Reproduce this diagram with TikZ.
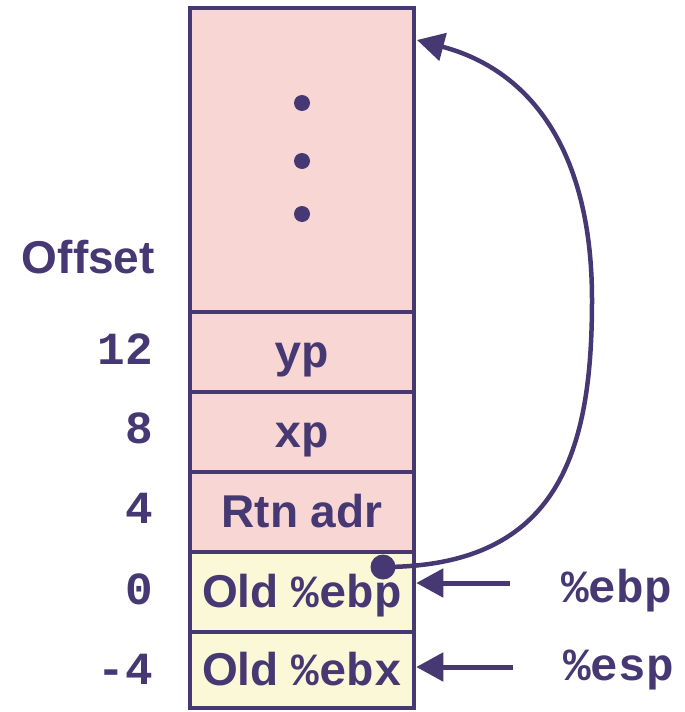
\documentclass[tikz,border=0pt]{standalone}
\usepackage{fontspec}
\setmainfont{Liberation Sans}
\setmonofont{Liberation Mono}
\newfontfamily\codefont{Liberation Mono}
\usetikzlibrary{arrows.meta}
\definecolor{ink}{RGB}{70,56,114}
\definecolor{pinkc}{RGB}{248,214,212}
\definecolor{yellowc}{RGB}{250,248,215}
\newcommand{\code}[1]{{\codefont\bfseries #1}}
\begin{document}
\begin{tikzpicture}[x=1pt,y=-1pt,
  cell/.style={draw=ink, line width=4.5pt, minimum width=224pt, minimum height=80pt,
    inner sep=0pt, text=ink, font=\fontsize{46}{46}\selectfont\bfseries,
    text height=35pt, text depth=5pt},
  pinkcell/.style={cell, fill=pinkc},
  yellowcell/.style={cell, fill=yellowc},
  lbl/.style={text=ink, inner sep=0pt, font=\fontsize{46}{46}\selectfont\bfseries},
  monolbl/.style={lbl, font=\fontsize{46}{46}\selectfont\codefont\bfseries},
  conn/.style={draw=ink, line width=4.5pt},
  tip/.style={-{Triangle[length=27pt,width=28pt]}},
  bullet/.style={circle, fill=ink, inner sep=0pt, minimum size=16pt}]
\useasboundingbox (0,0) rectangle (685,712);
% stack cells
\node[pinkcell, minimum height=304.5pt] (top) at (302,160) {};
\node[pinkcell] (yp) at (302,352) {\code{yp}};
\node[pinkcell] (xp) at (302,432) {\code{xp}};
\node[pinkcell] (rtn) at (302,512) {Rtn adr};
\node[yellowcell] (oebp) at (302,592) {Old \code{\%ebp}};
\node[yellowcell, minimum height=76pt] (oebx) at (302,670) {Old \code{\%ebx}};
% dots
\node[bullet] (d1) at (302,103) {};
\node[bullet] (d2) at (302,161) {};
\node[bullet] (d3) at (302,214) {};
% offsets
\node[lbl, anchor=base east] (off) at (155,273) {Offset};
\node[monolbl, anchor=base east] (o12) at (153,364) {12};
\node[monolbl, anchor=base east] (o8) at (153,443) {8};
\node[monolbl, anchor=base east] (o4) at (153,523) {4};
\node[monolbl, anchor=base east] (o0) at (153,604) {0};
\node[monolbl, anchor=base east] (om4) at (153,684) {-4};
% register labels
\node[monolbl, anchor=base west] (rebp) at (561,602) {\%ebp};
\node[monolbl, anchor=base west] (resp) at (563,680) {\%esp};
\coordinate (ebpfrom) at (510,583);
\coordinate (espfrom) at (513,667);
\draw[conn, tip, line width=5pt] (ebpfrom) -- (oebp.east |- ebpfrom);
\draw[conn, tip, line width=5pt] (espfrom) -- (oebx.east |- espfrom);
% saved frame pointer link
\node[bullet, minimum size=25pt] (ebpdot) at (383,567) {};
\coordinate (linktip) at (417,40);
\draw[conn, tip] (ebpdot.center) .. controls (560,567) and (592,450) .. (592,300)
  .. controls (592,150) and (530,70) .. (linktip);
\end{tikzpicture}
\end{document}
